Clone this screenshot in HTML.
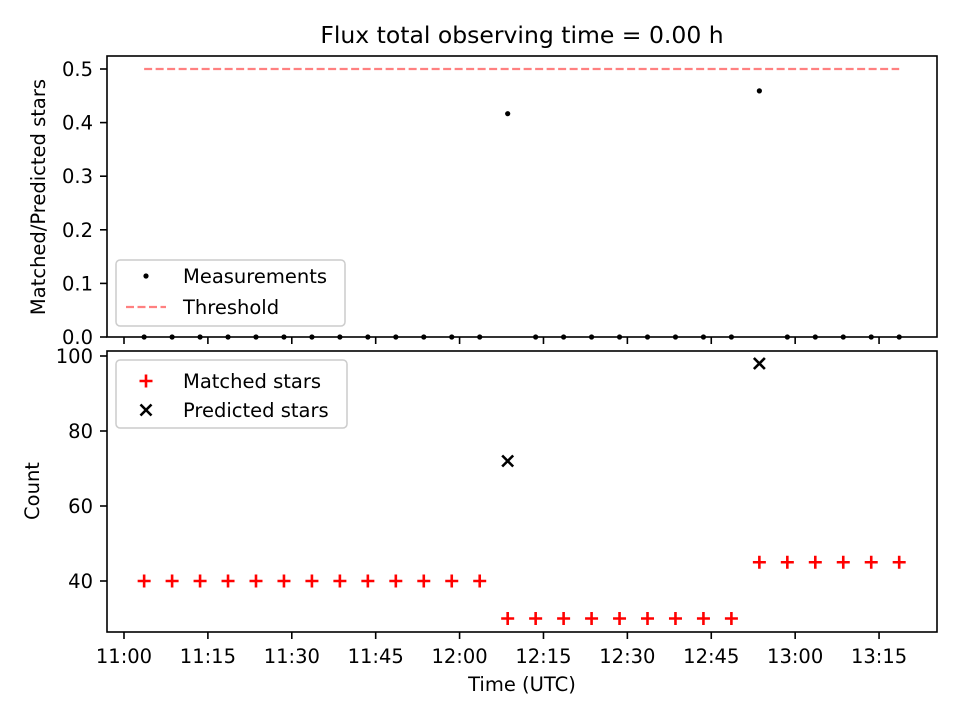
<!DOCTYPE html>
<html><head><meta charset="utf-8"><style>
body{margin:0;background:#fff}
svg text{font-family:"DejaVu Sans","Liberation Sans",sans-serif;fill:#000}
</style></head><body>
<svg id="chart" width="960" height="720" viewBox="0 0 960 720" xmlns="http://www.w3.org/2000/svg">
<text x="522" y="43" font-size="23.5" text-anchor="middle">Flux total observing time = 0.00 h</text>
<g id="topAx"></g><g id="botAx"></g>
<text x="522" y="691" font-size="19.5" text-anchor="middle">Time (UTC)</text>
<text transform="translate(45,197) rotate(-90)" font-size="19.5" text-anchor="middle">Matched/Predicted stars</text>
<text transform="translate(39,491) rotate(-90)" font-size="19.5" text-anchor="middle">Count</text>
</svg>
<script>
// minutes after 11:00 UTC
const times=[3.6,8.6,13.6,18.6,23.6,28.6,33.6,38.6,43.6,48.6,53.6,58.6,63.6,68.6,73.6,78.6,83.6,88.6,93.6,98.6,103.6,108.6,113.6,118.6,123.6,128.6,133.6,138.6];
const matched=[40,40,40,40,40,40,40,40,40,40,40,40,40,30,30,30,30,30,30,30,30,30,45,45,45,45,45,45];
const predicted=[0,0,0,0,0,0,0,0,0,0,0,0,0,72,0,0,0,0,0,0,0,0,98,0,0,0,0,0];
const xTickMin=[0,15,30,45,60,75,90,105,120,135];
const xTickLabels=["11:00","11:15","11:30","11:45","12:00","12:15","12:30","12:45","13:00","13:15"];
const topTicks=[0,0.1,0.2,0.3,0.4,0.5];
const botTicks=[40,60,80,100];
const threshold=0.5;
const NS="http://www.w3.org/2000/svg";
const L=107,R=937;
const xs=m=>124+(m)*5.593;
const yT=v=>337-v*536;
const yB=v=>581-(v-40)*3.75;
function mk(p,t,a){const e=document.createElementNS(NS,t);for(const k in a)e.setAttribute(k,a[k]);p.appendChild(e);return e;}
const gTop=document.getElementById('topAx'),gBot=document.getElementById('botAx');
const FS=19.5;
// threshold
let th=mk(gTop,'line',{x1:xs(times[0]),x2:xs(times[times.length-1]),y1:yT(threshold),y2:yT(threshold),stroke:'#ff8080','stroke-width':2.2,'stroke-dasharray':'8,3.5'});


// ratio dots
times.forEach((t,i)=>{const r=predicted[i]>0?matched[i]/predicted[i]:0;
 const c=mk(gTop,'circle',{cx:xs(t),cy:yT(r),r:2.6,fill:'#000'});
 
 });
// x ticks
xTickMin.forEach((m,i)=>{mk(gTop,'line',{x1:xs(m),x2:xs(m),y1:337,y2:344,stroke:'#000','stroke-width':1.6});
 mk(gBot,'line',{x1:xs(m),x2:xs(m),y1:632,y2:639,stroke:'#000','stroke-width':1.6});
 const t=mk(gBot,'text',{x:xs(m),y:663,'font-size':FS,'text-anchor':'middle'});t.textContent=xTickLabels[i];
 
 });
topTicks.forEach(v=>{mk(gTop,'line',{x1:L-7,x2:L,y1:yT(v),y2:yT(v),stroke:'#000','stroke-width':1.6});
 const t=mk(gTop,'text',{x:L-14,y:yT(v)+7,'font-size':FS,'text-anchor':'end'});t.textContent=v.toFixed(1);
 
 });
botTicks.forEach(v=>{mk(gBot,'line',{x1:L-7,x2:L,y1:yB(v),y2:yB(v),stroke:'#000','stroke-width':1.6});
 const t=mk(gBot,'text',{x:L-14,y:yB(v)+7,'font-size':FS,'text-anchor':'end'});t.textContent=v;
 
 });
function plus(p,cx,cy){return mk(p,'path',{d:`M${cx-6.5},${cy}H${cx+6.5}M${cx},${cy-6.5}V${cy+6.5}`,stroke:'#f00','stroke-width':2.6});}
function cross(p,cx,cy){return mk(p,'path',{d:`M${cx-5.5},${cy-5.5}L${cx+5.5},${cy+5.5}M${cx-5.5},${cy+5.5}L${cx+5.5},${cy-5.5}`,stroke:'#000','stroke-width':2.6});}
times.forEach((t,i)=>{const g=plus(gBot,xs(t),yB(matched[i]));
 
 
 if(predicted[i]>0){const c=cross(gBot,xs(t),yB(predicted[i]));
  
  }});
// frames
let f=mk(gTop,'rect',{x:L,y:56,width:R-L,height:281,fill:'none',stroke:'#000','stroke-width':1.6});


f=mk(gBot,'rect',{x:L,y:351,width:R-L,height:281,fill:'none',stroke:'#000','stroke-width':1.6});


// legends
let lg=mk(gTop,'rect',{x:116,y:260,width:229,height:66,rx:4,fill:'#fff','fill-opacity':0.8,stroke:'#ccc','stroke-width':1.5});


mk(gTop,'circle',{cx:146,cy:276,r:2.6,fill:'#000'});
let tx=mk(gTop,'text',{x:183,y:283,'font-size':FS});tx.textContent='Measurements';
mk(gTop,'line',{x1:126,x2:166,y1:307,y2:307,stroke:'#ff8080','stroke-width':2.2,'stroke-dasharray':'8,3.5'});
tx=mk(gTop,'text',{x:183,y:314,'font-size':FS});tx.textContent='Threshold';
lg=mk(gBot,'rect',{x:116,y:360,width:231,height:68,rx:4,fill:'#fff','fill-opacity':0.8,stroke:'#ccc','stroke-width':1.5});


plus(gBot,146,381);tx=mk(gBot,'text',{x:183,y:388,'font-size':FS});tx.textContent='Matched stars';
cross(gBot,146,410);tx=mk(gBot,'text',{x:183,y:417,'font-size':FS});tx.textContent='Predicted stars';
</script>
</body></html>
